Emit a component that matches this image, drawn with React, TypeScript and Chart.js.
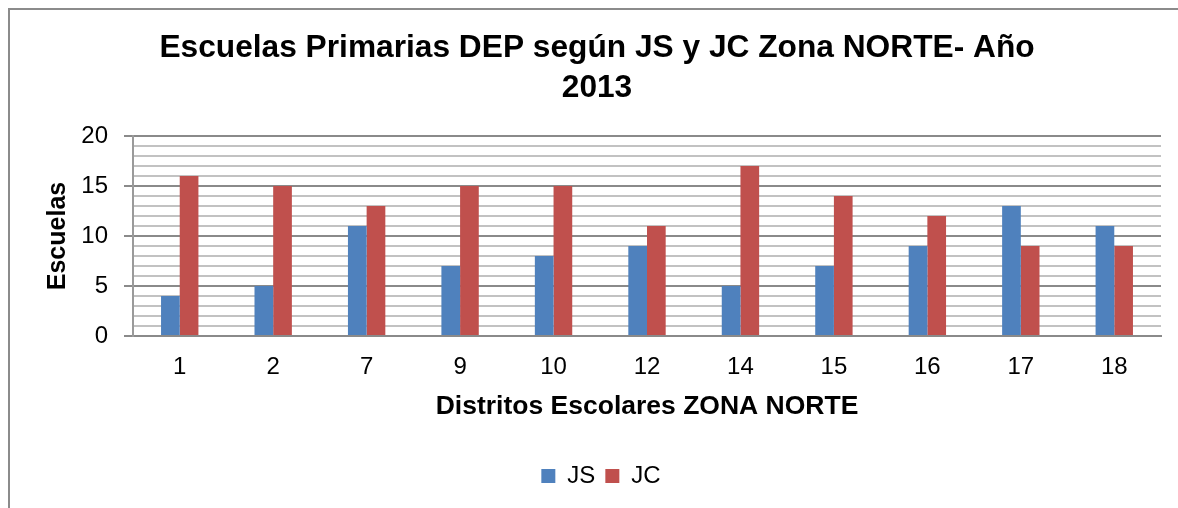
import React, { useEffect, useRef } from 'react';
import { Chart, registerables } from 'chart.js';

Chart.register(...registerables);

// ---- Data ----
const categories = ['1', '2', '7', '9', '10', '12', '14', '15', '16', '17', '18'];
const jsValues = [4, 5, 11, 7, 8, 9, 5, 7, 9, 13, 11];
const jcValues = [16, 15, 13, 15, 15, 11, 17, 14, 12, 9, 9];
const seriesNames = ['JS', 'JC'];
const titleLines = ['Escuelas Primarias DEP según JS y JC Zona NORTE- Año', '2013'];
const xAxisTitle = 'Distritos Escolares ZONA NORTE';
const yAxisTitle = 'Escuelas';
const yMin = 0;
const yMax = 20;
const yStep = 1;
const yLabelEvery = 5;

const FONT = "'Liberation Sans', Arial, Helvetica, sans-serif";
const BLUE = '#4f81bd';
const RED = '#c0504d';
const MAJOR = '#8a8a8a';
const MINOR = '#c2c2c2';

const legendShift = {
  id: 'legendShift',
  afterLayout(chart: any) {
    const l = chart.legend;
    if (l) {
      l.left += 4;
      l.right += 4;
    }
  },
};

export default function App() {
  const canvasRef = useRef<HTMLCanvasElement | null>(null);

  useEffect(() => {
    const canvas = canvasRef.current;
    if (!canvas) return;
    const isMajor = (v: number) => Math.abs(v % yLabelEvery) < 1e-9;
    const chart = new Chart(canvas, {
      type: 'bar',
      data: {
        labels: categories,
        datasets: [
          { label: seriesNames[0], data: jsValues, backgroundColor: BLUE, borderWidth: 0 },
          { label: seriesNames[1], data: jcValues, backgroundColor: RED, borderWidth: 0 },
        ],
      },
      plugins: [legendShift],
      options: {
        responsive: false,
        animation: false,
        devicePixelRatio: 1,
        layout: { padding: 0, autoPadding: false },
        datasets: { bar: { categoryPercentage: 0.4, barPercentage: 1.0 } },
        plugins: {
          title: {
            display: true,
            text: titleLines,
            color: '#000',
            font: { family: FONT, size: 31.7, weight: 'bold', lineHeight: '40px' },
            padding: { top: 18, bottom: 28 },
          },
          legend: {
            display: true,
            position: 'bottom',
            labels: {
              color: '#000',
              font: { family: FONT, size: 24 },
              boxWidth: 14,
              boxHeight: 14,
              padding: 10,
            },
          },
          tooltip: { enabled: false },
        },
        scales: {
          x: {
            grid: { display: false, drawTicks: false },
            border: { display: true, color: MAJOR, width: 2 },
            ticks: {
              color: '#000',
              font: { family: FONT, size: 24 },
              padding: 17,
              autoSkip: false,
              maxRotation: 0,
            },
            title: {
              display: true,
              text: xAxisTitle,
              color: '#000',
              font: { family: FONT, size: 26.5, weight: 'bold' },
              padding: { top: 0, bottom: 31 },
            },
            afterFit: (scale: any) => {
              scale.height = 118;
            },
          },
          y: {
            min: yMin,
            max: yMax,
            grid: {
              color: (ctx: any) => (ctx.tick && isMajor(ctx.tick.value) ? MAJOR : MINOR),
              lineWidth: 2,
              tickLength: 9,
              tickColor: (ctx: any) => (ctx.tick && isMajor(ctx.tick.value) ? MAJOR : 'rgba(0,0,0,0)'),
              tickWidth: 2,
            },
            border: { display: true, color: '#9a9a9a', width: 2 },
            ticks: {
              stepSize: yStep,
              autoSkip: false,
              color: '#000',
              font: { family: FONT, size: 24 },
              padding: 16,
              callback: (v: any) => (isMajor(Number(v)) ? String(v) : ''),
            },
            title: {
              display: true,
              text: yAxisTitle,
              color: '#000',
              font: { family: FONT, size: 25, weight: 'bold' },
              padding: { top: 33, bottom: 0 },
            },
            afterFit: (scale: any) => {
              scale.width = 123;
            },
          },
          // invisible spacer on the right side of the plot
          yRight: {
            type: 'linear',
            position: 'right',
            display: true,
            grid: { display: false, drawTicks: false },
            border: { display: false },
            ticks: { display: false },
            afterFit: (scale: any) => {
              scale.width = 23;
            },
          },
        },
      },
    });
    return () => chart.destroy();
  }, []);

  return (
    <div
      style={{
        position: 'fixed',
        left: 8,
        top: 8,
        width: 1170,
        height: 500,
        overflow: 'hidden',
        borderLeft: '2px solid #8b8b8b',
        borderTop: '2px solid #8b8b8b',
        boxSizing: 'border-box',
        background: '#fff',
      }}
    >
      <canvas ref={canvasRef} width={1174} height={488} style={{ display: 'block', width: 1174, height: 488 }} />
    </div>
  );
}
